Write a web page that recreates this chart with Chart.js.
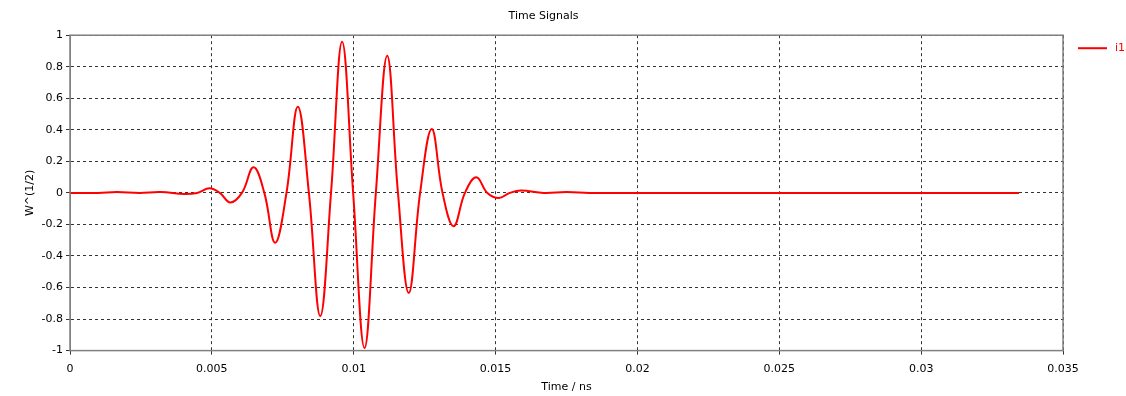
<!DOCTYPE html>
<html lang="en">
<head>
    <meta charset="UTF-8">
    <title>Time Signals</title>
    <script src="https://cdn.jsdelivr.net/npm/chart.js"></script>
    <style>
        html, body { margin: 0; padding: 0; background: #fff; }
        #wrap { width: 1126px; height: 396px; }
    </style>
</head>
<body>
    <div id="wrap"><canvas id="signalChart"></canvas></div>

    <script>
        // Values (time in ns, signal in W^(1/2))
        const timeNs = [
            0, 0.0010, 0.00165, 0.00245, 0.0032, 0.00404, 0.00448, 0.00492,
            0.00528, 0.00565, 0.00606, 0.00647, 0.00685, 0.00723, 0.00763,
            0.00803, 0.00842, 0.00882, 0.00920, 0.00959, 0.00998, 0.01038,
            0.01078, 0.01118, 0.01156, 0.01194, 0.01234, 0.01275, 0.01313,
            0.01352, 0.01392, 0.01432, 0.01471, 0.01511, 0.0155, 0.0159,
            0.0167, 0.0175, 0.0183, 0.0190, 0.03345
        ];
        const i1 = [
            0, 0, 0.005, 0, 0.005, -0.007, 0, 0.029,
            0, -0.061, 0, 0.162, 0, -0.316, 0,
            0.546, 0, -0.781, 0, 0.958, 0, -0.983,
            0, 0.869, 0, -0.635, 0, 0.405, 0,
            -0.211, 0, 0.099, 0, -0.032, 0, 0.015,
            0, 0.005, 0, 0, 0
        ];
        const xTicks = [0, 0.005, 0.01, 0.015, 0.02, 0.025, 0.03, 0.035];
        const yTicks = [-1, -0.8, -0.6, -0.4, -0.2, 0, 0.2, 0.4, 0.6, 0.8, 1];

        const font = { family: '"DejaVu Sans", sans-serif', size: 11 };

        // solid frame round the plot area + legend at the top right
        const frame = {
            id: 'frame',
            afterDraw(chart) {
                const { ctx, chartArea: a } = chart;
                ctx.save();
                ctx.strokeStyle = '#808080';
                ctx.lineWidth = 1.5;
                ctx.strokeRect(a.left, a.top, a.right - a.left, a.bottom - a.top);

                const ds = chart.data.datasets[0];
                ctx.strokeStyle = ds.borderColor;
                ctx.lineWidth = 2;
                ctx.beginPath();
                ctx.moveTo(a.right + 15, a.top + 13);
                ctx.lineTo(a.right + 44, a.top + 13);
                ctx.stroke();
                ctx.fillStyle = ds.borderColor;
                ctx.font = '11px "DejaVu Sans", sans-serif';
                ctx.textBaseline = 'middle';
                ctx.fillText(ds.label, a.right + 52, a.top + 13);
                ctx.restore();
            }
        };

        new Chart(document.getElementById('signalChart'), {
            type: 'line',
            data: {
                datasets: [{
                    label: 'i1',
                    data: timeNs.map((t, i) => ({ x: t, y: i1[i] })),
                    borderColor: '#ff0000',
                    backgroundColor: '#ff0000',
                    borderWidth: 2,
                    pointRadius: 0,
                    tension: 0.4
                }]
            },
            options: {
                responsive: true,
                maintainAspectRatio: false,
                animation: false,
                layout: { padding: { top: 0, right: 63, bottom: 2, left: 24 } },
                plugins: {
                    title: {
                        display: true,
                        text: 'Time Signals',
                        color: '#000',
                        font: { ...font, weight: 'normal' },
                        padding: { top: 10, bottom: 12 }
                    },
                    legend: { display: false },
                    tooltip: { enabled: false }
                },
                scales: {
                    x: {
                        type: 'linear',
                        min: 0,
                        max: 0.035,
                        afterBuildTicks: s => { s.ticks = xTicks.map(v => ({ value: v })); },
                        ticks: {
                            color: '#000',
                            font: font,
                            maxRotation: 0,
                            padding: 8,
                            callback: v => String(+v.toFixed(3))
                        },
                        grid: { color: '#333', tickLength: 4 },
                        border: { dash: [3, 3], color: '#808080' },
                        title: { display: true, text: 'Time / ns', color: '#000', font: font, padding: { top: -3, bottom: 0 } }
                    },
                    y: {
                        min: -1,
                        max: 1,
                        afterBuildTicks: s => { s.ticks = yTicks.map(v => ({ value: v })); },
                        afterFit: s => { s.width = 46; },
                        ticks: {
                            color: '#000',
                            font: font,
                            padding: 3,
                            callback: v => String(+v.toFixed(1))
                        },
                        grid: { color: '#333', tickLength: 4 },
                        border: { dash: [3, 3], color: '#808080' },
                        title: { display: true, text: 'W^(1/2)', color: '#000', font: font, padding: 0 }
                    }
                }
            },
            plugins: [frame]
        });
    </script>
</body>
</html>
